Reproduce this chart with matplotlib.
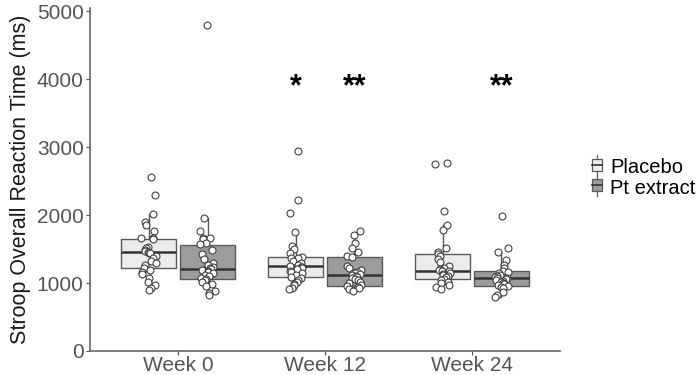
import numpy as np
import matplotlib
matplotlib.use('Agg')
import matplotlib.pyplot as plt
from matplotlib.legend_handler import HandlerBase
from matplotlib.patches import Rectangle
from matplotlib.lines import Line2D

plt.rcParams['font.family'] = ['Liberation Sans', 'DejaVu Sans']

weeks = ['Week 0', 'Week 12', 'Week 24']
groups = ['Placebo', 'Pt extract']

# individual participants (ms)
placebo_w0 = [2564, 2294, 2015, 1902, 1853, 1770, 1667, 1657, 1640, 1534, 1510, 1485, 1470, 1461, 1445,
              1436, 1397, 1363, 1324, 1290, 1265, 1216, 1191, 1167, 1132, 1069, 1020, 971, 922, 897]
pt_w0 = [4794, 1951, 1765, 1667, 1655, 1642, 1593, 1569, 1485, 1422, 1353, 1289, 1265, 1240, 1225, 1206,
         1191, 1180, 1167, 1142, 1125, 1108, 1078, 1060, 1044, 1010, 985, 961, 882, 848, 824]
placebo_w12 = [2941, 2216, 2034, 1755, 1549, 1500, 1436, 1387, 1373, 1363, 1330, 1289, 1265, 1250, 1240,
               1230, 1216, 1200, 1176, 1160, 1142, 1118, 1093, 1078, 1044, 1010, 990, 971, 931, 912]
pt_w12 = [1765, 1706, 1583, 1520, 1461, 1400, 1387, 1250, 1216, 1190, 1167, 1150, 1140, 1127, 1113, 1100,
          1093, 1075, 1059, 1040, 1020, 995, 971, 960, 945, 922, 905, 882]
placebo_w24 = [2760, 2745, 2064, 1853, 1780, 1510, 1461, 1431, 1397, 1348, 1314, 1250, 1216, 1200, 1191,
               1181, 1170, 1152, 1135, 1118, 1100, 1083, 1064, 1044, 1020, 995, 970, 946, 907]
pt_w24 = [1985, 1510, 1461, 1338, 1265, 1216, 1176, 1167, 1140, 1118, 1100, 1090, 1078, 1070, 1060, 1044,
          1030, 1020, 1000, 985, 971, 956, 940, 922, 873, 824, 799]

# box summaries, order: W0 placebo, W0 pt, W12 placebo, W12 pt, W24 placebo, W24 pt
medians = [1460, 1206, 1250, 1113, 1181, 1078]
q1 = [1216, 1059, 1093, 956, 1064, 956]
q3 = [1647, 1559, 1387, 1382, 1431, 1176]
whis_lo = [897, 824, 912, 882, 907, 799]
whis_hi = [2015, 1951, 1755, 1706, 1853, 1461]

sig_labels = ['', '', '*', '**', '', '**']
sig_y = 3880

points = [placebo_w0, pt_w0, placebo_w12, pt_w12, placebo_w24, pt_w24]
fills = ['#ececec', '#9c9c9c']
edge = '#5a5a5a'

fig = plt.figure(figsize=(6.99, 3.75), dpi=100)
ax = fig.add_axes([90 / 699, 1 - 351 / 375, 470 / 699, 343 / 375])

centers = np.arange(1, len(weeks) + 1)
offset = 0.2
width = 0.374
pos = []
for c in centers:
    pos += [c - offset, c + offset]

stats = []
for i in range(len(medians)):
    stats.append(dict(med=medians[i], q1=q1[i], q3=q3[i], whislo=whis_lo[i], whishi=whis_hi[i], fliers=[]))

bp = ax.bxp(stats, positions=pos, widths=width, patch_artist=True, showcaps=False,
            boxprops=dict(edgecolor=edge, linewidth=1.0),
            whiskerprops=dict(color=edge, linewidth=1.0),
            medianprops=dict(color='#333333', linewidth=1.8))
for i, b in enumerate(bp['boxes']):
    b.set_facecolor(fills[i % 2])

rng = np.random.default_rng(7)
for i, vals in enumerate(points):
    jit = rng.uniform(-0.05, 0.05, len(vals))
    ax.plot(pos[i] + jit, vals, 'o', ms=5, mfc='white', mec='#404040', mew=0.8, zorder=5)

for i, lab in enumerate(sig_labels):
    if lab:
        ax.text(pos[i], sig_y, lab, ha='center', va='center', fontsize=22, fontweight='bold', color='black')

ax.set_xlim(0.4, 3.6)
ax.set_ylim(0, 5045)
ax.set_xticks(centers)
ax.set_xticklabels(weeks)
ax.set_yticks([0, 1000, 2000, 3000, 4000, 5000])
ax.tick_params(labelsize=15, colors='#4d4d4d', length=3, width=0.8, labelcolor='#555555', pad=1.5)
ax.tick_params(axis='x', pad=0.5)
ax.set_ylabel('Stroop Overall Reaction Time (ms)', fontsize=15.5, color='#1a1a1a', labelpad=4)
for s in ['top', 'right']:
    ax.spines[s].set_visible(False)
for s in ['left', 'bottom']:
    ax.spines[s].set_color('#666666')
    ax.spines[s].set_linewidth(1.2)


class BoxHandler(HandlerBase):
    def __init__(self, fc):
        super().__init__()
        self.fc = fc

    def create_artists(self, legend, orig, xd, yd, w, h, fs, trans):
        cx = xd + w / 2
        line = Line2D([cx, cx], [yd - 2, yd + h + 2], color=edge, lw=0.9, transform=trans)
        rect = Rectangle((xd + w * 0.15, yd + h * 0.1), w * 0.7, h * 0.8, facecolor=self.fc,
                         edgecolor=edge, lw=0.9, transform=trans)
        med = Line2D([xd + w * 0.15, xd + w * 0.85], [yd + h / 2, yd + h / 2], color='#333333',
                     lw=1.2, transform=trans)
        return [line, rect, med]


h1 = Rectangle((0, 0), 1, 1)
h2 = Rectangle((0, 0), 1, 1)
fig.legend([h1, h2], groups, handler_map={h1: BoxHandler(fills[0]), h2: BoxHandler(fills[1])},
           loc='center left', bbox_to_anchor=(580 / 699, 1 - 178 / 375), frameon=False,
           fontsize=14.5, handlelength=0.7, handleheight=0.8, handletextpad=0.3, labelspacing=0.05,
           borderpad=0)

fig.savefig('out.png', dpi=100)
